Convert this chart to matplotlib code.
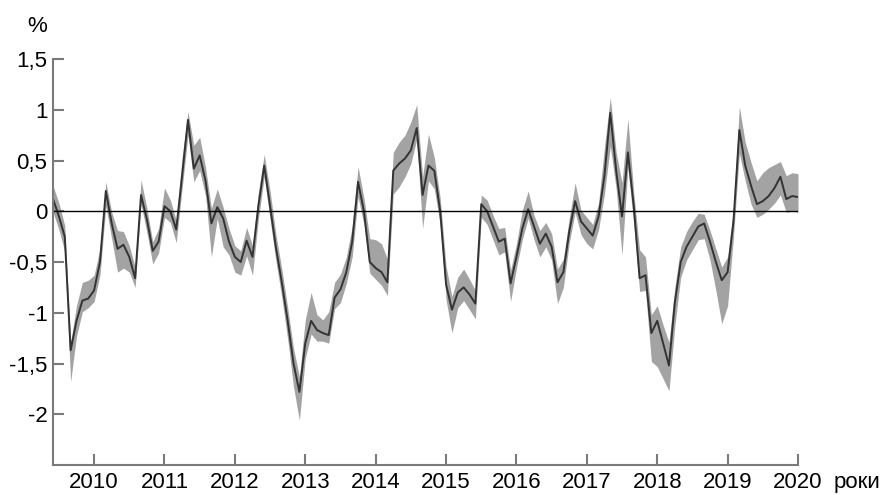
import numpy as np
import matplotlib
matplotlib.use('Agg')
from matplotlib import pyplot

# monthly values, June 2009 .. January 2020
values = [0.12, -0.05, -0.25, -1.37, -1.08, -0.88, -0.86, -0.78, -0.50, 0.20,
          -0.12, -0.37, -0.33, -0.45, -0.66, 0.16, -0.08, -0.39, -0.30, 0.05,
          0.00, -0.18, 0.35, 0.90, 0.42, 0.55, 0.30, -0.12, 0.04, -0.07,
          -0.30, -0.45, -0.50, -0.29, -0.45, 0.05, 0.45, 0.05, -0.36, -0.70,
          -1.08, -1.50, -1.78, -1.30, -1.08, -1.17, -1.20, -1.22, -0.85, -0.77,
          -0.60, -0.30, 0.29, 0.00, -0.50, -0.56, -0.60, -0.70, 0.40, 0.47,
          0.52, 0.60, 0.82, 0.16, 0.45, 0.40, 0.00, -0.72, -0.97, -0.80,
          -0.75, -0.82, -0.91, 0.07, 0.00, -0.15, -0.30, -0.27, -0.71, -0.45,
          -0.17, 0.02, -0.15, -0.32, -0.22, -0.35, -0.70, -0.60, -0.20, 0.10,
          -0.10, -0.17, -0.24, -0.05, 0.35, 0.97, 0.40, -0.05, 0.58, 0.05,
          -0.66, -0.63, -1.20, -1.08, -1.30, -1.52, -0.90, -0.50, -0.35, -0.25,
          -0.15, -0.12, -0.30, -0.50, -0.68, -0.60, -0.10, 0.80, 0.45, 0.25,
          0.07, 0.10, 0.15, 0.23, 0.34, 0.12, 0.15, 0.14]

# grey band: distance above / below the line
band_up = [0.13, 0.13, 0.11, 0.08, 0.15, 0.18, 0.18, 0.15, 0.13, 0.09,
           0.11, 0.18, 0.13, 0.11, 0.11, 0.15, 0.11, 0.09, 0.13, 0.18,
           0.11, 0.09, 0.18, 0.08, 0.23, 0.18, 0.13, 0.15, 0.18, 0.11,
           0.13, 0.11, 0.11, 0.13, 0.11, 0.13, 0.11, 0.15, 0.13, 0.13,
           0.13, 0.15, 0.15, 0.23, 0.28, 0.15, 0.13, 0.23, 0.15, 0.15,
           0.15, 0.15, 0.15, 0.13, 0.23, 0.28, 0.28, 0.23, 0.18, 0.21,
           0.23, 0.28, 0.23, 0.18, 0.31, 0.13, 0.13, 0.18, 0.13, 0.15,
           0.18, 0.15, 0.13, 0.09, 0.11, 0.11, 0.13, 0.11, 0.13, 0.13,
           0.18, 0.18, 0.11, 0.13, 0.11, 0.13, 0.13, 0.13, 0.13, 0.18,
           0.11, 0.11, 0.11, 0.13, 0.28, 0.15, 0.18, 0.33, 0.33, 0.13,
           0.28, 0.18, 0.18, 0.15, 0.18, 0.23, 0.15, 0.15, 0.15, 0.15,
           0.13, 0.09, 0.11, 0.13, 0.13, 0.15, 0.13, 0.23, 0.23, 0.23,
           0.23, 0.28, 0.28, 0.23, 0.15, 0.23, 0.23, 0.23]
band_dn = [0.13, 0.13, 0.15, 0.31, 0.15, 0.11, 0.09, 0.11, 0.13, 0.15,
           0.15, 0.23, 0.23, 0.15, 0.09, 0.09, 0.13, 0.13, 0.11, 0.11,
           0.11, 0.13, 0.13, 0.15, 0.13, 0.15, 0.15, 0.33, 0.11, 0.28,
           0.13, 0.15, 0.13, 0.15, 0.18, 0.13, 0.11, 0.13, 0.13, 0.15,
           0.18, 0.23, 0.28, 0.15, 0.13, 0.11, 0.08, 0.08, 0.11, 0.13,
           0.11, 0.15, 0.15, 0.13, 0.11, 0.11, 0.13, 0.13, 0.23, 0.23,
           0.18, 0.13, 0.11, 0.33, 0.15, 0.18, 0.13, 0.15, 0.23, 0.15,
           0.13, 0.15, 0.15, 0.13, 0.13, 0.13, 0.13, 0.13, 0.18, 0.11,
           0.11, 0.09, 0.13, 0.13, 0.13, 0.13, 0.21, 0.15, 0.11, 0.11,
           0.13, 0.15, 0.13, 0.13, 0.18, 0.33, 0.18, 0.38, 0.15, 0.18,
           0.13, 0.15, 0.28, 0.45, 0.35, 0.25, 0.23, 0.15, 0.13, 0.13,
           0.13, 0.15, 0.18, 0.28, 0.43, 0.33, 0.15, 0.23, 0.15, 0.18,
           0.13, 0.13, 0.13, 0.15, 0.18, 0.13, 0.15, 0.15]

years = list(range(2010, 2021))
yticks = [1.5, 1, 0.5, 0, -0.5, -1, -1.5, -2]

t = 2009 + (5 + np.arange(len(values))) / 12.0
v = np.array(values)
hi = v + np.array(band_up)
lo = v - np.array(band_dn)

pyplot.rcParams['font.family'] = ['Liberation Sans', 'DejaVu Sans']
fig = pyplot.figure(figsize=(8.81, 4.95), dpi=100)
ax = fig.add_axes([0.0602, 0.0606, 0.8456, 0.8202])

ax.fill_between(t, lo, hi, color='#a3a3a3', lw=0)
ax.plot(t, v, color='#333333', lw=1.4)
ax.axhline(0, color='k', lw=1)

ax.set_xlim(t[0], t[-1])
ax.set_ylim(-2.5, 1.5)
ax.set_xticks(years)
ax.set_xticklabels([str(y) for y in years])
ax.set_yticks(yticks)
ax.set_yticklabels([('%g' % y).replace('.', ',') for y in yticks])

for s in ['top', 'right']:
	ax.spines[s].set_visible(False)
for s in ['left', 'bottom']:
	ax.spines[s].set_color('#7a7a7a')
	ax.spines[s].set_linewidth(1.5)
ax.tick_params(direction='in', length=8, width=1.5, color='#7a7a7a', labelsize=16)
ax.tick_params(axis='x', pad=5)
ax.tick_params(axis='y', pad=4)

fig.text(37/881., 1 - 26/495., '%', ha='center', va='center', size=16)
fig.text(834/881., 7/495., 'роки', ha='left', va='baseline', size=16)

pyplot.savefig('out.png', dpi=100)
